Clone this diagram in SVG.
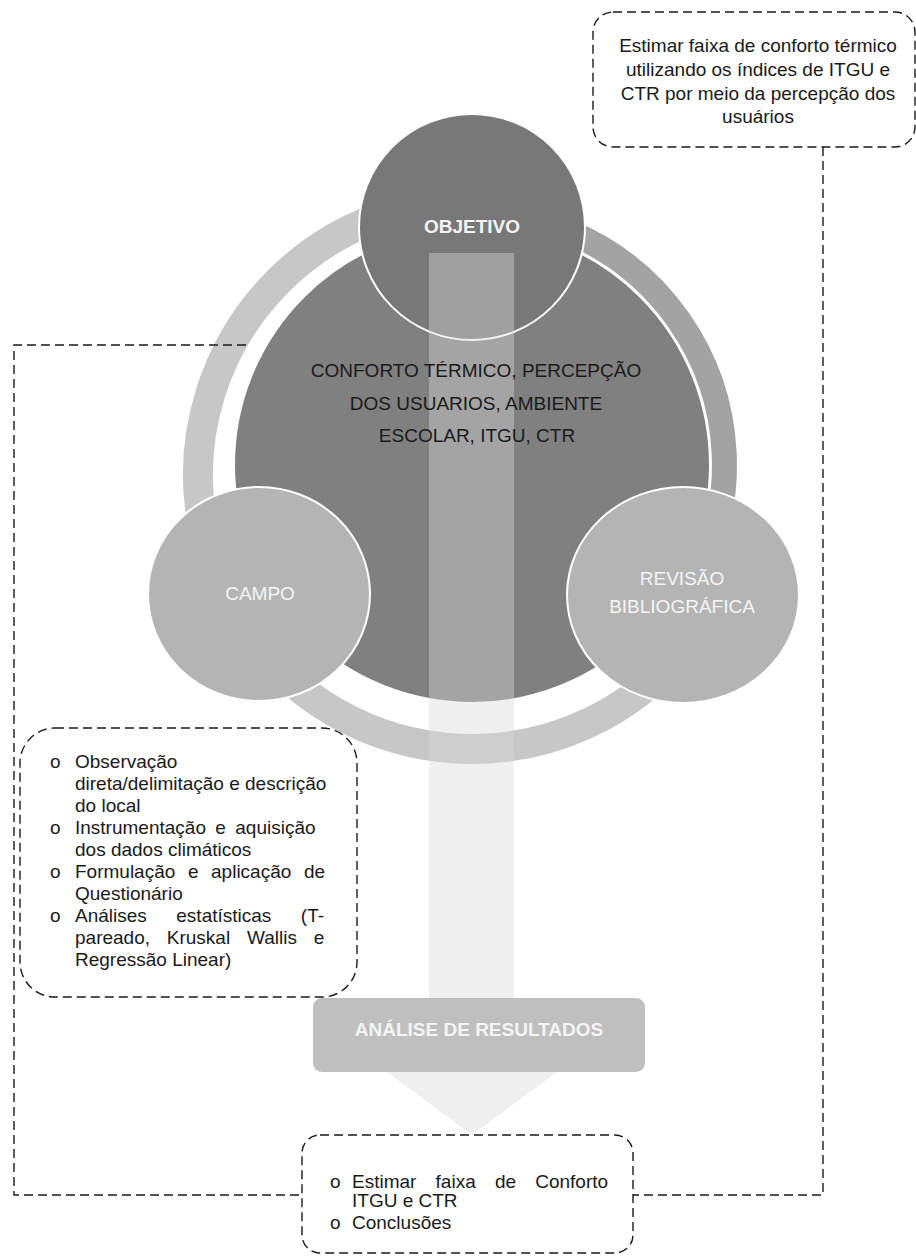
<svg xmlns="http://www.w3.org/2000/svg" width="916" height="1257" viewBox="0 0 916 1257">
<style>
.t{font-family:"Liberation Sans",Arial,sans-serif;font-size:19px;fill:#1a1a1a}
.w{font-family:"Liberation Sans",Arial,sans-serif;font-size:19px;fill:#f4f4f4}
.b{font-weight:bold}
.dash{fill:none;stroke:#1a1a1a;stroke-width:1.4;stroke-dasharray:9 5}
.circ{stroke:#ffffff;stroke-width:2}
</style>
<rect width="916" height="1257" fill="#ffffff"/>
<g id="ring">
<path d="M681.9,651.1 A274,274 0 1 1 378.3,217.5" fill="none" stroke="#c7c7c7" stroke-width="30"/>
<path d="M450,213.5 A252.5,252.5 0 0 1 700.8,571.7" fill="none" stroke="#a3a3a3" stroke-width="25"/>
</g>
<g id="tema">
<circle cx="472" cy="465" r="238" fill="#808080" class="circ"/>
</g>
<g id="objetivo">
<circle cx="472" cy="227" r="113" fill="#787878" class="circ"/>
<text x="472" y="233" text-anchor="middle" class="w b">OBJETIVO</text>
</g>
<g id="campo">
<ellipse cx="259" cy="594" rx="111" ry="107" fill="#b4b4b4" class="circ"/>
<text x="260" y="600" text-anchor="middle" class="w">CAMPO</text>
</g>
<g id="revisao">
<ellipse cx="683" cy="595" rx="116" ry="108" fill="#b4b4b4" class="circ"/>
<text x="682" y="585" text-anchor="middle" class="w">REVISÃO</text>
<text x="682" y="613" text-anchor="middle" class="w">BIBLIOGRÁFICA</text>
</g>
<g id="seta">
<path d="M429,253 H514 V1072 H557 L472,1135 L387,1072 H429 Z" fill="#d9d9d9" fill-opacity="0.4"/>
</g>
<g id="tema-texto">
<text x="476" y="377" text-anchor="middle" class="t">CONFORTO TÉRMICO, PERCEPÇÃO</text>
<text x="476" y="410" text-anchor="middle" class="t">DOS USUARIOS, AMBIENTE</text>
<text x="477" y="442" text-anchor="middle" class="t">ESCOLAR, ITGU, CTR</text>
</g>
<g id="analise">
<rect x="313" y="998" width="332" height="74" rx="9" fill="#bfbfbf"/>
<text x="479" y="1036" text-anchor="middle" class="w b">ANÁLISE DE RESULTADOS</text>
</g>
<g id="objetivo-texto">
<rect x="593" y="12" width="322" height="135" rx="20" class="dash"/>
<text x="758" y="52" text-anchor="middle" class="t">Estimar faixa de conforto térmico</text>
<text x="758" y="76" text-anchor="middle" class="t">utilizando os índices de ITGU e</text>
<text x="758" y="100" text-anchor="middle" class="t">CTR por meio da percepção dos</text>
<text x="758" y="123" text-anchor="middle" class="t">usuários</text>
</g>
<g id="campo-lista">
<rect x="20" y="728" width="337" height="269" rx="35" class="dash"/>
<g class="t">
<text x="50" y="768">o</text>
<text x="75" y="768">Observação</text>
<text x="75" y="790">direta/delimitação e descrição</text>
<text x="75" y="812">do local</text>
<text x="50" y="834">o</text>
<text x="75" y="834" word-spacing="4.1">Instrumentação e aquisição</text>
<text x="75" y="856">dos dados climáticos</text>
<text x="50" y="878">o</text>
<text x="75" y="878" word-spacing="7.3">Formulação e aplicação de</text>
<text x="75" y="900">Questionário</text>
<text x="50" y="922">o</text>
<text x="75" y="922" word-spacing="24.2">Análises estatísticas (T-</text>
<text x="75" y="944" word-spacing="11.5">pareado, Kruskal Wallis e</text>
<text x="75" y="966">Regressão Linear)</text>
</g>
</g>
<g id="conclusoes">
<rect x="302" y="1135" width="331" height="118" rx="18" class="dash"/>
<g class="t">
<text x="330" y="1188">o</text>
<text x="352" y="1188" word-spacing="13.9">Estimar faixa de Conforto</text>
<text x="352" y="1207">ITGU e CTR</text>
<text x="330" y="1229">o</text>
<text x="352" y="1229">Conclusões</text>
</g>
</g>
<g id="connectors">
<path d="M246,345 H14 V1195 H302" class="dash"/>
<path d="M823,147 V1195 H633" class="dash"/>
</g>
</svg>
